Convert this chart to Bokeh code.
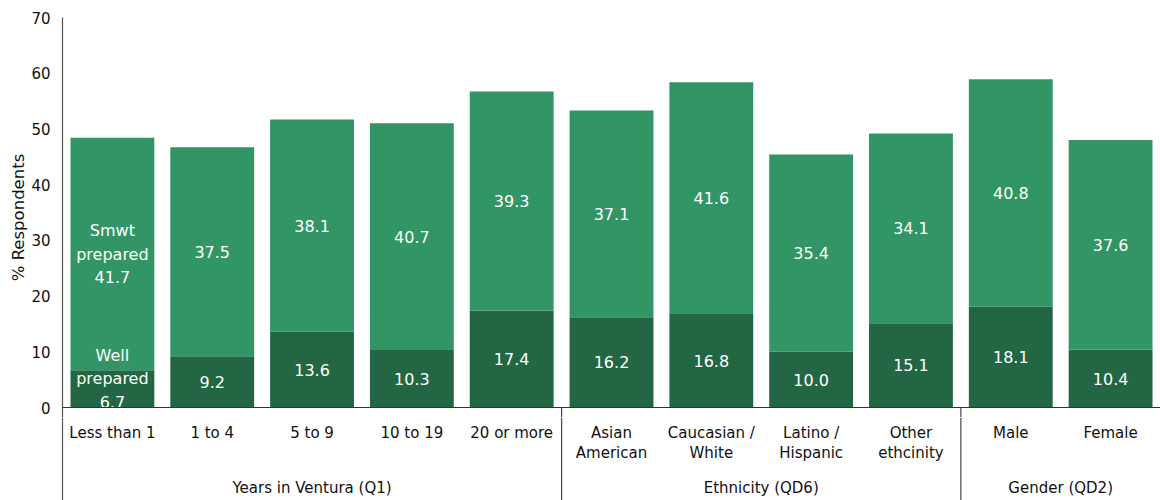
from bokeh.plotting import figure
from bokeh.layouts import column
from bokeh.models import FactorRange, FixedTicker, Span, ColumnDataSource
from bokeh.core.properties import value
from bokeh.embed import file_html
from bokeh.resources import INLINE

groups = ["Years in Ventura (Q1)", "Ethnicity (QD6)", "Gender (QD2)"]
categories = [
    ["Less than 1", "1 to 4", "5 to 9", "10 to 19", "20 or more"],
    ["Asian\nAmerican", "Caucasian /\nWhite", "Latino /\nHispanic", "Other\nethcinity"],
    ["Male", "Female"],
]
well_prepared = [6.7, 9.2, 13.6, 10.3, 17.4, 16.2, 16.8, 10.0, 15.1, 18.1, 10.4]
smwt_prepared = [41.7, 37.5, 38.1, 40.7, 39.3, 37.1, 41.6, 35.4, 34.1, 40.8, 37.6]
y_ticks = [0, 10, 20, 30, 40, 50, 60, 70]

FONT = "DejaVu Sans"
LIGHT = "#329565"
DARK = "#236643"
AXIS = "#555555"
TXT = "#111111"

factors = [(g, c) for g, cs in zip(groups, categories) for c in cs]
xr = FactorRange(*factors, group_padding=0, factor_padding=0, range_padding=0)

# ---------- main chart ----------
PLOT_PX = 390          # pixels from 0 to 70
PAD_PX = 10            # room below the baseline inside the main frame
y_lo = -PAD_PX * (y_ticks[-1] - y_ticks[0]) / PLOT_PX

p = figure(
    width=1160, height=17 + PLOT_PX + PAD_PX, x_range=xr, y_range=(y_lo, y_ticks[-1]),
    output_backend="svg", toolbar_location=None,
    min_border_left=62, min_border_right=0, min_border_top=17, min_border_bottom=0,
)
p.xaxis.visible = False
p.grid.visible = False
p.outline_line_color = None

src = ColumnDataSource(dict(
    x=factors,
    well=well_prepared,
    top=[w + s for w, s in zip(well_prepared, smwt_prepared)],
    well_mid=[w / 2 for w in well_prepared],
    smwt_mid=[w + s / 2 for w, s in zip(well_prepared, smwt_prepared)],
    well_lbl=[f"{w:.1f}" for w in well_prepared],
    smwt_lbl=[f"{s:.1f}" for s in smwt_prepared],
    zero=[0] * len(factors),
))
src.data["well_lbl"][0] = "Well\nprepared\n" + src.data["well_lbl"][0]
src.data["smwt_lbl"][0] = "Smwt\nprepared\n" + src.data["smwt_lbl"][0]

p.vbar(x="x", bottom="zero", top="well", width=0.84, source=src, fill_color=DARK, line_color=None)
p.vbar(x="x", bottom="well", top="top", width=0.84, source=src, fill_color=LIGHT, line_color=None)

LH = 1.25
lbl = dict(text_color="white", text_font=value(FONT), text_font_size="16px",
           text_align="center", text_baseline="middle", text_line_height=LH)
p.text(x="x", y="smwt_mid", text="smwt_lbl", source=src, **lbl)
well_src = ColumnDataSource(dict(x=factors[1:], y=src.data["well_mid"][1:], t=src.data["well_lbl"][1:]))
first_src = ColumnDataSource(dict(x=factors[:1], y=src.data["well_mid"][:1], t=src.data["well_lbl"][:1]))
p.text(x="x", y="y", text="t", source=well_src, **lbl)
p.text(x="x", y="y", text="t", source=first_src, y_offset=-10, **lbl)

p.add_layout(Span(location=0, dimension="width", line_color="#333333", line_width=1.2))

sep_x = [(g, cs[-1], 0.5) for g, cs in zip(groups[:-1], categories[:-1])]
p.segment(x0=sep_x, x1=sep_x, y0=[0] * len(sep_x), y1=[y_lo] * len(sep_x),
          line_color="#444444", line_width=1.2)

ax = p.yaxis[0]
ax.ticker = FixedTicker(ticks=y_ticks)
ax.axis_label = "% Respondents"
ax.axis_label_text_font = FONT
ax.axis_label_text_font_style = "normal"
ax.axis_label_text_font_size = "16.5px"
ax.axis_label_text_color = TXT
ax.axis_label_standoff = 0
ax.major_label_text_font = FONT
ax.major_label_text_font_size = "15px"
ax.major_label_text_color = TXT
ax.major_label_standoff = 12
ax.major_tick_out = 0
ax.major_tick_in = 0
ax.major_tick_line_color = None
ax.minor_tick_line_color = None
ax.axis_line_color = AXIS
ax.axis_line_width = 1.2

# ---------- category / group label band ----------
q = figure(
    width=1160, height=500 - (17 + PLOT_PX + PAD_PX), x_range=xr, y_range=(0, 1),
    output_backend="svg", toolbar_location=None,
    min_border_left=62, min_border_right=0, min_border_top=0, min_border_bottom=0,
)
q.xaxis.visible = False
q.grid.visible = False
q.outline_line_color = None
qa = q.yaxis[0]
qa.ticker = FixedTicker(ticks=[])
qa.major_tick_out = 0
qa.major_tick_in = 0
qa.minor_tick_line_color = None
qa.major_label_text_font_size = "0px"
qa.axis_line_color = AXIS
qa.axis_line_width = 1.2

q.text(x="x", y="y", text="t", source=ColumnDataSource(dict(
    x=factors, y=[1] * len(factors), t=[c for cs in categories for c in cs])),
    text_color=TXT, text_font=value(FONT), text_font_size="15px",
    text_align="center", text_baseline="top", text_line_height=1.15, y_offset=16 - PAD_PX)

q.text(x="x", y="y", text="t", source=ColumnDataSource(dict(
    x=groups, y=[1] * len(groups), t=groups)),
    text_color=TXT, text_font=value(FONT), text_font_size="15px",
    text_align="center", text_baseline="middle", y_offset=80 - PAD_PX)

q.segment(x0=sep_x, x1=sep_x, y0=[0] * len(sep_x), y1=[1] * len(sep_x),
          line_color="#444444", line_width=1.2)

layout = column(p, q, spacing=0)
open("out.html", "w").write(file_html(layout, INLINE))
